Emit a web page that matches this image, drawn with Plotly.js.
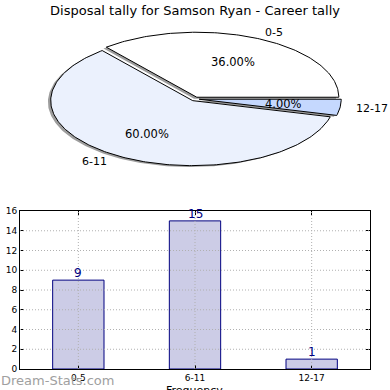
<!DOCTYPE html>
<html><head><meta charset="utf-8">
<script src="https://cdn.plot.ly/plotly-3.0.1.min.js"></script>
<style>html,body{margin:0;padding:0;background:#fff}#c{width:390px;height:390px}</style>
</head><body><div id="c"></div>
<script>
const categories = ['0-5', '6-11', '12-17'];
const counts = [9, 15, 1];
const sliceColors = ['#ffffff', '#ebf1fd', '#c5d8fe'];
const barYTicks = [0, 2, 4, 6, 8, 10, 12, 14, 16];

const W = 390, H = 390;
const cx = 195, cy = 99, rx = 142, ry = 65, explode = 0.03;
const shOx = -2.8, shOy = 1.4;
const total = counts.reduce((a, b) => a + b, 0);
const font = 'DejaVu Sans, sans-serif';

const shadowTraces = [], wedgeTraces = [], annotations = [], shapes = [];
let start = 0;
counts.forEach((v, i) => {
  const frac = v / total;
  const a1 = start * 360, a2 = (start + frac) * 360;
  const am = (a1 + a2) / 2 * Math.PI / 180;
  const ox = cx + explode * rx * Math.cos(am);
  const oy = cy - explode * ry * Math.sin(am);
  const xs = [ox], ys = [oy];
  const n = Math.max(4, Math.ceil(a2 - a1));
  for (let k = 0; k <= n; k++) {
    const a = (a1 + (a2 - a1) * k / n) * Math.PI / 180;
    xs.push(ox + rx * Math.cos(a));
    ys.push(oy - ry * Math.sin(a));
  }
  xs.push(ox); ys.push(oy);
  shadowTraces.push({type: 'scatter', mode: 'lines', x: xs.map(x => x + shOx), y: ys.map(y => y + shOy),
    fill: 'toself', fillcolor: 'rgba(77,77,77,0.55)', line: {width: 0}, xaxis: 'x2', yaxis: 'y2', hoverinfo: 'skip'});
  wedgeTraces.push({type: 'scatter', mode: 'lines', x: xs, y: ys,
    fill: 'toself', fillcolor: sliceColors[i], line: {color: '#000', width: 1}, xaxis: 'x2', yaxis: 'y2', hoverinfo: 'skip'});
  const c = Math.cos(am), s = Math.sin(am);
  annotations.push({xref: 'x2', yref: 'y2', x: ox + 1.1 * rx * c, y: oy - 1.1 * ry * s,
    text: categories[i], showarrow: false, xanchor: c >= 0 ? 'left' : 'right', yanchor: 'middle',
    font: {family: font, size: 11, color: '#000'}});
  annotations.push({xref: 'x2', yref: 'y2', x: ox + 0.6 * rx * c, y: oy - 0.6 * ry * s,
    text: (100 * frac).toFixed(2) + '%', showarrow: false, xanchor: 'center', yanchor: 'middle',
    font: {family: font, size: 11.5, color: '#000'}});
  start += frac;
});

// bar value labels
categories.forEach((cat, i) => {
  annotations.push({xref: 'x', yref: 'y', x: cat, y: counts[i], text: String(counts[i]), showarrow: false,
    xanchor: 'center', yanchor: 'bottom', yshift: -2, font: {family: font, size: 12, color: '#000080'}});
});

// dotted gridlines drawn above the bars (matplotlib style)
const gridLine = {color: '#b0b0b0', width: 1, dash: '1px,2px'};
categories.forEach(cat => {
  shapes.push({type: 'line', xref: 'x', yref: 'y domain', x0: cat, x1: cat, y0: 0, y1: 1, layer: 'above', line: gridLine});
});
barYTicks.slice(1, -1).forEach(t => {
  shapes.push({type: 'line', xref: 'x domain', yref: 'y', x0: 0, x1: 1, y0: t, y1: t, layer: 'above', line: gridLine});
});

annotations.push({xref: 'paper', yref: 'paper', x: 194 / W, y: 1 - 382 / H, text: 'Frequency', showarrow: false,
  xanchor: 'center', yanchor: 'top', font: {family: font, size: 11, color: '#000'}});
annotations.push({xref: 'paper', yref: 'paper', x: -0.003, y: 1 - 380 / H, text: 'Dream-Stats.com', showarrow: false,
  xanchor: 'left', yanchor: 'middle', font: {family: font, size: 13, color: '#a0a0a0'}});

const barTrace = {type: 'bar', x: categories, y: counts, width: 0.44,
  marker: {color: '#ccccE6', line: {color: '#000080', width: 1}}, xaxis: 'x', yaxis: 'y', hoverinfo: 'skip'};

const axCommon = {showline: true, linecolor: '#000', linewidth: 1, mirror: 'allticks', ticks: 'inside', ticklen: 4,
  tickcolor: '#000', showgrid: false, tickfont: {family: font, size: 9, color: '#000'}, zeroline: false,
  fixedrange: true, layer: 'above traces'};

const layout = {
  width: W, height: H, margin: {l: 0, r: 0, t: 0, b: 0}, showlegend: false,
  paper_bgcolor: '#fff', plot_bgcolor: 'rgba(0,0,0,0)',
  title: {text: 'Disposal tally for Samson Ryan - Career tally', x: 0.5, xanchor: 'center', y: 1 - 10 / H, yanchor: 'middle',
    font: {family: font, size: 13, color: '#000'}},
  xaxis: Object.assign({domain: [20 / W, 370 / W], type: 'category', range: [-0.5, 2.5], anchor: 'y'}, axCommon),
  yaxis: Object.assign({domain: [21 / H, 179 / H], range: [0, 16], tickvals: barYTicks, anchor: 'x'}, axCommon),
  xaxis2: {domain: [0, 1], range: [0, W], anchor: 'y2', visible: false, fixedrange: true},
  yaxis2: {domain: [0, 1], range: [H, 0], anchor: 'x2', visible: false, fixedrange: true},
  annotations: annotations,
  shapes: shapes
};

Plotly.newPlot('c', [barTrace].concat(shadowTraces, wedgeTraces), layout, {staticPlot: true, displayModeBar: false});
</script></body></html>
